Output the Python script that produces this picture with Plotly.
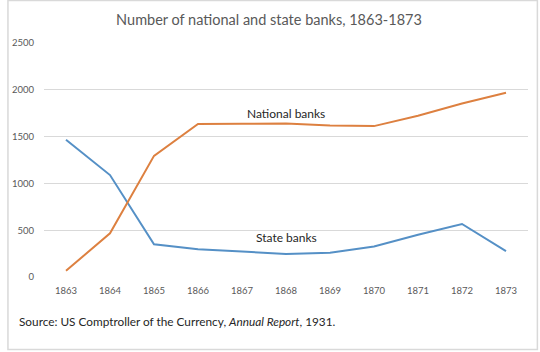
import plotly.graph_objects as go

years = ["1863", "1864", "1865", "1866", "1867", "1868", "1869", "1870", "1871", "1872", "1873"]
national_banks = [66, 467, 1294, 1634, 1636, 1640, 1619, 1612, 1723, 1853, 1968]
state_banks = [1466, 1089, 349, 297, 272, 247, 259, 325, 452, 566, 277]
y_ticks = [0, 500, 1000, 1500, 2000, 2500]

W, H = 540, 352
L, R, T, B = 38, 12, 43, 75
pw, ph = W - L - R, H - T - B

def px_x(x):
    return (x - L) / pw

def px_y(y):
    return (H - B - y) / ph

fig = go.Figure()
fig.add_trace(go.Scatter(x=years, y=state_banks, mode="lines", name="State banks",
                         line=dict(color="#5590C6", width=2)))
fig.add_trace(go.Scatter(x=years, y=national_banks, mode="lines", name="National banks",
                         line=dict(color="#DD8040", width=2)))

fig.update_layout(
    width=W, height=H,
    margin=dict(l=L, r=R, t=T, b=B),
    paper_bgcolor="white", plot_bgcolor="white",
    showlegend=False,
    font=dict(family="Lato", color="#595959"),
    title=dict(text="Number of national and state banks, 1863-1873",
               x=269 / W, xanchor="center",
               y=1 - 20 / H, yanchor="middle",
               font=dict(size=14.5, color="#595959", family="Lato")),
)
fig.update_xaxes(type="category", range=[-0.5, 10.5], showgrid=False, showline=False,
                 ticks="", tickfont=dict(size=9.5, color="#595959"), ticklabelstandoff=6)
fig.update_yaxes(range=[0, 2500], tickvals=y_ticks, showgrid=True, gridcolor="#D9D9D9",
                 gridwidth=1, zeroline=False, showline=False, ticks="",
                 tickfont=dict(size=9.5, color="#595959"), ticklabelstandoff=9)

fig.add_annotation(x=5, y=1745, xref="x", yref="y", text="National banks", showarrow=False,
                   font=dict(size=12, color="#262626", family="Lato"))
fig.add_annotation(x=5, y=427, xref="x", yref="y", text="State banks", showarrow=False,
                   font=dict(size=12, color="#262626", family="Lato"))
fig.add_annotation(x=px_x(11), y=px_y(321), xref="paper", yref="paper", xanchor="left",
                   yanchor="middle", showarrow=False,
                   text="Source: US Comptroller of the Currency, <i>Annual Report</i>, 1931.",
                   font=dict(size=11.8, color="#262626", family="Lato"))
fig.add_shape(type="rect", xref="paper", yref="paper",
              x0=px_x(1.5), x1=px_x(537.5), y0=px_y(349.5), y1=px_y(0.5),
              line=dict(color="#D9D9D9", width=1.5), fillcolor="rgba(0,0,0,0)", layer="below")

fig.write_html("out.html")
